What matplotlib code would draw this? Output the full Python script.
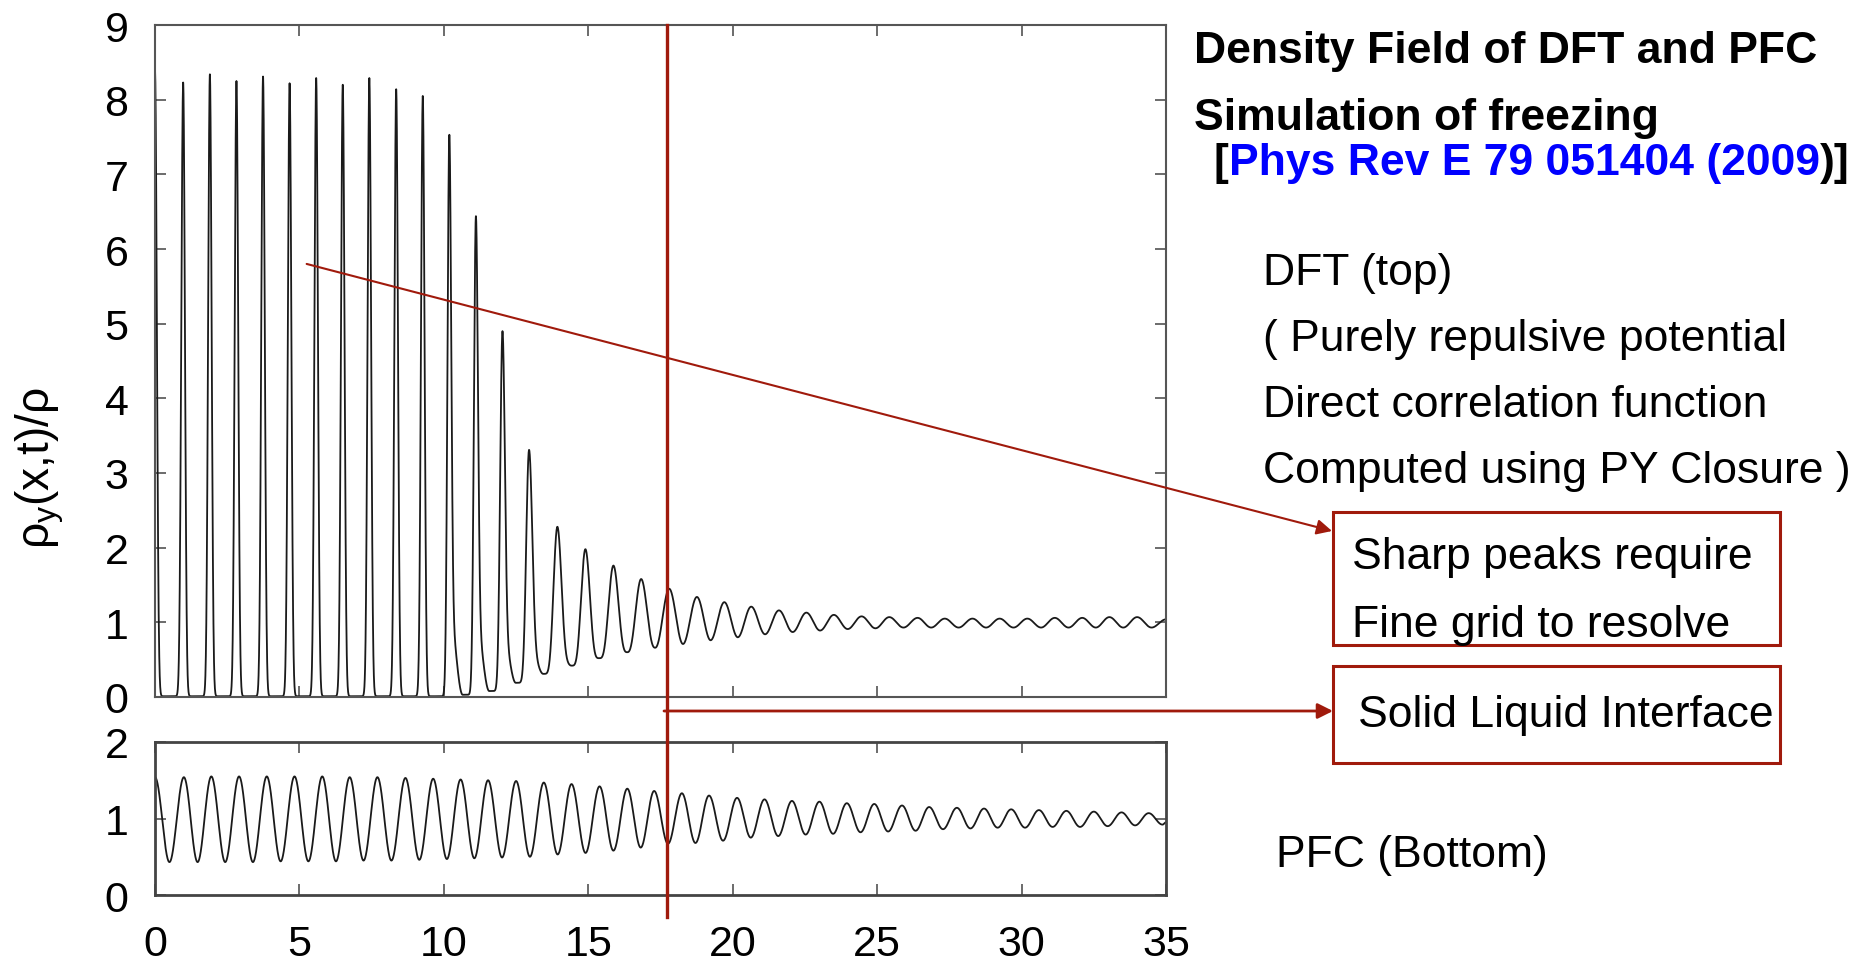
import numpy as np
import matplotlib
matplotlib.use('Agg')
import matplotlib.pyplot as plt
from matplotlib.patches import Rectangle, FancyArrowPatch
from matplotlib.lines import Line2D

plt.rcParams['font.family'] = ['Liberation Sans', 'DejaVu Sans']
plt.rcParams['mathtext.fontset'] = 'custom'
plt.rcParams['mathtext.rm'] = 'Liberation Sans'
plt.rcParams['mathtext.it'] = 'Liberation Sans'

# DFT density field (top panel): peak positions / heights and the minima between them
dft_peak_x = [0.0, 0.975, 1.90, 2.82, 3.74, 4.66, 5.58, 6.50, 7.42, 8.35, 9.27, 10.19,
              11.11, 12.03, 12.95, 13.93, 14.90, 15.87, 16.83, 17.80, 18.76, 19.71,
              20.64, 21.60, 22.55, 23.50, 24.46, 25.42, 26.40, 27.34, 28.30, 29.24,
              30.20, 31.15, 32.10, 33.04, 34.00, 35.0]
dft_peak_y = [8.38, 8.23, 8.34, 8.25, 8.31, 8.22, 8.29, 8.20, 8.29, 8.14, 8.05, 7.53,
              6.44, 4.90, 3.31, 2.28, 1.98, 1.76, 1.58, 1.45, 1.34, 1.27, 1.21, 1.16,
              1.13, 1.10, 1.08, 1.07, 1.06, 1.05, 1.05, 1.05, 1.05, 1.06, 1.06, 1.07,
              1.07, 1.04]
dft_trough_y = [0.01, 0.01, 0.01, 0.01, 0.01, 0.01, 0.01, 0.01, 0.01, 0.01, 0.01,
                0.03, 0.08, 0.19, 0.31, 0.42, 0.52, 0.60, 0.66, 0.71, 0.76, 0.80,
                0.84, 0.87, 0.89, 0.91, 0.92, 0.93, 0.93, 0.93, 0.93, 0.93, 0.93,
                0.93, 0.93, 0.93, 0.93]

# PFC density field (bottom panel)
pfc_peak_x = [0.0, 1.0, 1.95, 2.91, 3.87, 4.83, 5.79, 6.74, 7.70, 8.67, 9.63, 10.58,
              11.53, 12.50, 13.46, 14.42, 15.39, 16.35, 17.28, 18.24, 19.18, 20.15,
              21.10, 22.05, 23.00, 23.95, 24.90, 25.86, 26.80, 27.76, 28.70, 29.64,
              30.60, 31.55, 32.50, 33.46, 34.40]
pfc_peak_y = [1.54, 1.54, 1.55, 1.55, 1.55, 1.55, 1.55, 1.54, 1.54, 1.53, 1.52, 1.51,
              1.50, 1.49, 1.47, 1.45, 1.42, 1.39, 1.36, 1.33, 1.30, 1.27, 1.25, 1.23,
              1.22, 1.20, 1.19, 1.17, 1.15, 1.14, 1.13, 1.12, 1.11, 1.10, 1.09, 1.08,
              1.07]
pfc_trough_y = [0.43, 0.43, 0.43, 0.43, 0.44, 0.44, 0.44, 0.45, 0.45, 0.46, 0.47, 0.48,
                0.49, 0.50, 0.53, 0.55, 0.58, 0.62, 0.67, 0.68, 0.71, 0.75, 0.77, 0.79,
                0.80, 0.82, 0.83, 0.84, 0.86, 0.87, 0.88, 0.88, 0.89, 0.89, 0.90, 0.91,
                0.92]
pfc_end = (35.0, 0.95)

interface_x = 17.73
arrow_from = (5.25, 5.80)
x_ticks = [0, 5, 10, 15, 20, 25, 30, 35]
top_yticks = [0, 1, 2, 3, 4, 5, 6, 7, 8, 9]
bottom_yticks = [0, 1, 2]

RED = '#A01A0C'
W, H = 1871, 962


def fx(px):
    return px / W


def fy(py):
    return 1 - py / H


def build_curve(ex, ey, sharpen):
    # smooth half-waves between successive extrema; tall peaks drawn as narrow spikes
    xs, ys = [], []
    t = np.linspace(0, 1, 120)
    for i in range(len(ex) - 1):
        x0, x1, y0, y1 = ex[i], ex[i + 1], ey[i], ey[i + 1]
        n = max(1.0, 1.4 * abs(y0 - y1)) if sharpen else 1.0
        if y0 >= y1:
            g = np.cos(np.pi * t / 2) ** (2 * n)
            if sharpen and y1 > 0.02 and y0 > 2:
                # slow tail on the falling side of the melting peaks
                g = 0.85 * g + 0.15 * np.cos(np.pi * t / 2) ** 2
            y = y1 + (y0 - y1) * g
        else:
            y = y0 + (y1 - y0) * np.cos(np.pi * (1 - t) / 2) ** (2 * n)
        xs.append(x0 + (x1 - x0) * t)
        ys.append(y)
    return np.concatenate(xs), np.concatenate(ys)


# interleave peaks and minima
px = np.array(dft_peak_x)
dft_ex = np.empty(2 * len(px) - 1)
dft_ey = np.empty(2 * len(px) - 1)
dft_ex[0::2] = px
dft_ex[1::2] = (px[:-1] + px[1:]) / 2
dft_ey[0::2] = dft_peak_y
dft_ey[1::2] = dft_trough_y
dft_x, dft_y = build_curve(dft_ex, dft_ey, True)

qx = np.array(pfc_peak_x)
q_mid = np.append((qx[:-1] + qx[1:]) / 2, qx[-1] + 0.48)
pfc_ex = np.empty(2 * len(qx) + 1)
pfc_ey = np.empty(2 * len(qx) + 1)
pfc_ex[0:-1:2] = qx
pfc_ex[1:-1:2] = q_mid
pfc_ex[-1] = pfc_end[0]
pfc_ey[0:-1:2] = pfc_peak_y
pfc_ey[1:-1:2] = pfc_trough_y
pfc_ey[-1] = pfc_end[1]
pfc_x, pfc_y = build_curve(pfc_ex, pfc_ey, False)

fig = plt.figure(figsize=(18.71, 9.62), dpi=100)
fig.patch.set_facecolor('white')

ax1 = fig.add_axes([fx(155), fy(698), (1166 - 155) / W, (698 - 26) / H])
ax2 = fig.add_axes([fx(155), fy(896), (1166 - 155) / W, (896 - 743) / H])

ax1.plot(dft_x, dft_y, color='#1a1a1a', lw=1.3)
ax2.plot(pfc_x, pfc_y, color='#1a1a1a', lw=1.3)

for ax in (ax1, ax2):
    ax.set_xlim(0, 35)
    ax.set_xticks(x_ticks)
    ax.tick_params(direction='in', top=True, right=True, length=8, width=1.1,
                   color='#444444', labelsize=31)
    ax.tick_params(axis='x', pad=21)
    ax.tick_params(axis='y', pad=19)
    for s in ax.spines.values():
        s.set_color('#555555')
        s.set_linewidth(1.5)

ax1.set_ylim(0, 9)
ax1.set_yticks(top_yticks)
ax1.tick_params(labelbottom=False)
ax2.set_ylim(0, 2)
ax2.set_yticks(bottom_yticks)
for s in ax2.spines.values():
    s.set_linewidth(2.0)
    s.set_color('#444444')

fig.text(fx(40), fy(468), r'$\rho_y(x{,}t)/\rho$', rotation=90, fontsize=33,
         ha='center', va='center')

# interface marker and arrows
xi = fig.transFigure.inverted().transform(ax1.transData.transform((interface_x, 0)))[0]
fig.add_artist(Line2D([xi, xi], [fy(26), fy(918)], color=RED, lw=2.4,
                      transform=fig.transFigure))
fig.add_artist(FancyArrowPatch((fx(664), fy(712)), (fx(1333), fy(712)),
                               transform=fig.transFigure, color=RED, lw=2.0,
                               arrowstyle='-|>,head_length=0.4,head_width=0.2',
                               mutation_scale=23, shrinkA=0, shrinkB=0))
a0 = fig.transFigure.inverted().transform(ax1.transData.transform(arrow_from))
fig.add_artist(FancyArrowPatch(tuple(a0), (fx(1332), fy(532)),
                               transform=fig.transFigure, color=RED, lw=1.5,
                               arrowstyle='-|>,head_length=0.4,head_width=0.2',
                               mutation_scale=23, shrinkA=0, shrinkB=0))

for top, bot in [(513, 646), (667, 764)]:
    fig.add_artist(Rectangle((fx(1333), fy(bot)), (1780 - 1333) / W, (bot - top) / H,
                             transform=fig.transFigure, fill=False, ec=RED, lw=2.2))

# right-hand text
FS = 32
fig.text(fx(1194), fy(63), 'Density Field of DFT and PFC', fontsize=FS,
         fontweight='bold', va='baseline')
fig.text(fx(1194), fy(130), 'Simulation of freezing', fontsize=FS,
         fontweight='bold', va='baseline')

renderer = fig.canvas.get_renderer()
xpos = 1214
for piece, col in [('[', 'black'), ('Phys Rev E 79 051404 (2009', '#0000FF'), (')]', 'black')]:
    t = fig.text(fx(xpos), fy(175), piece, fontsize=FS, fontweight='bold',
                 color=col, va='baseline')
    xpos = t.get_window_extent(renderer).x1

body = [('DFT (top)', 1263, 285),
        ('( Purely repulsive potential', 1263, 351),
        ('Direct correlation function', 1263, 417),
        ('Computed using PY Closure )', 1263, 483),
        ('Sharp peaks require', 1352, 569),
        ('Fine grid to resolve', 1352, 637),
        ('Solid Liquid Interface', 1358, 727),
        ('PFC (Bottom)', 1276, 867)]
for s, x, y in body:
    fig.text(fx(x), fy(y), s, fontsize=FS, va='baseline')

fig.savefig('out.png', dpi=100)
